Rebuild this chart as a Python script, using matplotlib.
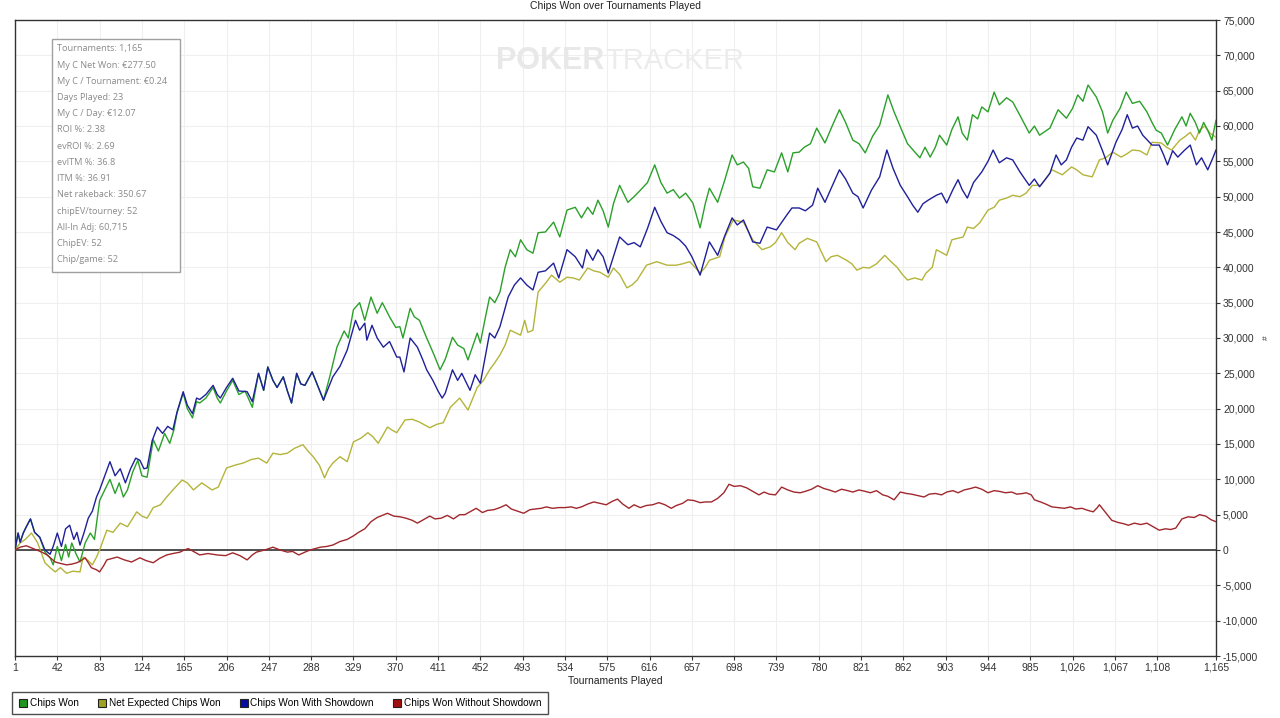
import matplotlib
matplotlib.use("Agg")
import matplotlib.pyplot as plt
from matplotlib.lines import Line2D
from matplotlib.patches import Rectangle
from matplotlib.ticker import FuncFormatter

# (tournament, chips in thousands)
chips_won = [
    (1, 0), (4, 2.4), (6, 1.1), (9, 2.4), (12, 3.3), (16, 4.4), (20, 2.5), (25, 1.8), (30, -0.3), (35, -1.1),
    (38, -2.1), (42, 0.5), (46, -1.5), (50, 0.8), (53, -1.0), (56, 1.0), (60, -0.5), (64, -1.7), (69, 1.0),
    (74, 2.4), (78, 1.5), (83, 7.0), (88, 8.5), (93, 10.0), (98, 8.0), (102, 9.5), (106, 7.5), (110, 8.5),
    (115, 11.0), (120, 12.7), (124, 10.5), (129, 10.3), (135, 15.6), (140, 14.0), (146, 16.5), (151, 15.1),
    (155, 17.0), (158, 19.4), (164, 22.2), (168, 20.0), (173, 18.7), (177, 21.0), (180, 20.8), (186, 21.5),
    (193, 23.0), (197, 21.5), (200, 20.8), (206, 22.5), (212, 24.0), (218, 22.0), (224, 22.5), (231, 20.2),
    (237, 25.0), (242, 22.6), (246, 25.9), (251, 24.0), (255, 23.0), (261, 24.5), (265, 22.5), (269, 20.8),
    (274, 25.0), (278, 23.5), (282, 23.3), (289, 25.2), (295, 23.0), (300, 21.2), (306, 24.5), (313, 28.7),
    (320, 31.0), (324, 30.0), (329, 34.0), (335, 35.0), (340, 32.5), (346, 35.8), (352, 33.5), (357, 35.0),
    (364, 33.0), (370, 31.5), (374, 31.6), (377, 30.0), (384, 34.2), (388, 33.0), (393, 32.5), (400, 30.0),
    (406, 28.0), (413, 25.5), (418, 27.0), (425, 30.1), (430, 29.0), (436, 28.5), (440, 26.9), (445, 29.0),
    (449, 30.7), (452, 29.3), (457, 33.0), (461, 35.8), (466, 35.0), (471, 36.5), (476, 40.0), (481, 42.5),
    (486, 41.5), (491, 43.9), (497, 42.5), (503, 42.0), (508, 44.9), (515, 45.0), (523, 46.4), (529, 44.3),
    (536, 48.1), (544, 48.5), (550, 47.0), (556, 48.5), (561, 47.5), (566, 49.5), (571, 48.0), (576, 45.7),
    (581, 49.0), (587, 51.6), (595, 49.2), (601, 50.0), (607, 50.9), (614, 52.0), (621, 54.5), (627, 52.0),
    (633, 50.5), (639, 51.0), (645, 49.8), (651, 50.5), (658, 49.1), (665, 45.6), (670, 49.0), (674, 51.2),
    (682, 49.2), (689, 52.4), (696, 55.9), (701, 54.5), (707, 54.9), (712, 54.0), (716, 51.4), (723, 51.2),
    (730, 53.8), (737, 53.5), (744, 56.2), (750, 53.5), (755, 56.2), (761, 56.3), (766, 57.0), (772, 57.5),
    (778, 59.7), (786, 57.6), (793, 60.0), (800, 62.3), (806, 60.5), (813, 58.0), (819, 57.5), (825, 56.2),
    (832, 58.5), (839, 60.1), (847, 64.4), (853, 62.0), (859, 59.9), (866, 57.5), (872, 56.5), (878, 55.5),
    (883, 57.0), (888, 55.6), (893, 57.0), (897, 58.7), (904, 57.3), (909, 59.5), (915, 61.3), (919, 59.0),
    (924, 58.0), (929, 61.6), (934, 61.0), (938, 62.7), (944, 62.0), (950, 64.8), (955, 63.0), (962, 64.0),
    (968, 63.4), (975, 61.5), (984, 59.0), (989, 60.0), (994, 58.7), (1004, 59.7), (1012, 62.3), (1020, 61.1),
    (1026, 62.5), (1031, 64.4), (1036, 63.5), (1041, 65.8), (1049, 64.1), (1055, 62.0), (1060, 59.0),
    (1065, 60.8), (1072, 62.5), (1078, 64.8), (1084, 63.2), (1091, 63.5), (1098, 62.0), (1103, 60.5),
    (1107, 59.4), (1112, 59.0), (1118, 57.3), (1125, 59.5), (1132, 61.3), (1136, 60.0), (1140, 61.8),
    (1145, 60.5), (1149, 59.0), (1153, 60.5), (1157, 59.4), (1161, 58.0), (1165, 60.8),
]

net_expected = [
    (1, 0), (6, 1.0), (11, 1.5), (17, 2.4), (23, 1.0), (30, -1.8), (35, -2.5), (40, -3.1), (45, -2.5),
    (51, -3.3), (57, -3.0), (64, -3.1), (67, -1.0), (72, -1.5), (76, -2.1), (80, -1.0), (83, 0.0), (90, 2.8),
    (96, 2.5), (103, 3.8), (110, 3.3), (119, 5.4), (124, 4.8), (129, 4.5), (135, 6.0), (142, 6.4), (148, 7.5),
    (154, 8.5), (163, 9.9), (168, 9.5), (174, 8.5), (182, 9.5), (192, 8.5), (198, 8.9), (206, 11.6),
    (214, 12.0), (222, 12.3), (230, 12.8), (237, 13.0), (245, 12.3), (251, 13.7), (258, 13.5), (265, 13.7),
    (272, 14.4), (280, 14.9), (285, 14.0), (290, 13.2), (296, 12.0), (301, 10.2), (305, 11.5), (309, 12.3),
    (316, 13.2), (323, 12.5), (329, 15.3), (336, 15.8), (343, 16.6), (348, 16.0), (353, 15.1), (362, 17.4),
    (366, 17.0), (371, 16.6), (379, 18.4), (386, 18.5), (393, 18.1), (403, 17.3), (410, 17.8), (416, 18.0),
    (423, 20.2), (432, 21.5), (440, 19.8), (449, 23.0), (455, 24.0), (461, 25.5), (466, 26.5), (471, 27.6),
    (476, 29.0), (481, 31.1), (491, 30.4), (495, 32.5), (498, 30.8), (503, 31.1), (508, 36.5), (516, 37.9),
    (521, 38.9), (529, 37.9), (536, 38.6), (542, 38.5), (548, 38.2), (556, 39.9), (562, 39.5), (568, 39.3),
    (576, 38.6), (581, 39.9), (587, 39.0), (594, 37.1), (599, 37.5), (604, 38.2), (613, 40.3), (623, 40.8),
    (633, 40.3), (642, 40.3), (648, 40.5), (655, 40.8), (665, 39.2), (670, 40.0), (674, 41.0), (684, 41.5),
    (689, 44.3), (697, 46.7), (707, 46.4), (712, 45.0), (716, 43.9), (725, 42.5), (733, 42.9), (738, 43.5),
    (744, 44.9), (750, 43.5), (757, 42.5), (761, 43.4), (769, 44.1), (778, 43.6), (787, 40.8), (792, 41.5),
    (798, 41.7), (807, 41.0), (812, 40.5), (817, 39.6), (823, 40.0), (829, 39.9), (836, 40.5), (844, 41.7),
    (850, 40.8), (856, 40.0), (861, 39.0), (866, 38.2), (873, 38.5), (880, 38.2), (884, 39.2), (890, 40.0),
    (894, 42.5), (904, 41.7), (909, 43.9), (920, 44.3), (924, 45.7), (930, 45.5), (936, 46.3), (944, 48.1),
    (950, 48.5), (955, 49.5), (962, 49.8), (968, 50.2), (975, 50.0), (981, 50.5), (987, 51.6), (995, 51.6),
    (1000, 52.5), (1006, 53.8), (1016, 53.1), (1025, 54.2), (1030, 53.8), (1036, 53.1), (1045, 52.8),
    (1052, 55.2), (1058, 55.5), (1065, 56.3), (1073, 55.6), (1078, 56.0), (1084, 56.6), (1091, 56.5),
    (1098, 55.9), (1103, 57.7), (1112, 57.6), (1117, 57.0), (1122, 56.6), (1130, 58.0), (1135, 58.5),
    (1140, 59.1), (1145, 58.0), (1149, 59.4), (1154, 60.0), (1159, 59.0), (1165, 58.4),
]

with_showdown = [
    (1, 0), (4, 2.4), (6, 1.1), (9, 2.4), (12, 3.3), (16, 4.4), (20, 2.5), (25, 1.8), (30, 0.0), (35, -0.6),
    (38, 0.5), (42, 2.4), (46, 0.5), (50, 3.0), (54, 3.5), (58, 1.5), (61, 2.5), (64, 0.7), (68, 2.5),
    (72, 4.5), (76, 5.5), (80, 7.5), (83, 8.5), (88, 10.5), (93, 12.5), (98, 10.5), (103, 11.5), (108, 9.5),
    (113, 11.5), (118, 13.0), (122, 12.7), (126, 11.5), (129, 11.6), (134, 15.5), (139, 17.4), (144, 16.5),
    (149, 17.5), (154, 17.0), (158, 19.5), (164, 22.4), (168, 20.5), (173, 19.3), (177, 21.5), (180, 21.3),
    (186, 22.0), (193, 23.3), (197, 22.0), (200, 21.5), (206, 23.0), (212, 24.3), (218, 22.5), (226, 22.4),
    (231, 21.0), (237, 25.0), (242, 22.6), (246, 25.9), (251, 24.0), (255, 23.0), (261, 24.5), (265, 22.5),
    (269, 20.8), (274, 25.0), (278, 23.5), (282, 23.3), (289, 25.2), (295, 23.0), (300, 21.2), (309, 24.5),
    (316, 26.0), (323, 28.3), (331, 32.5), (335, 31.1), (340, 32.1), (342, 29.7), (347, 31.8), (352, 30.0),
    (358, 28.7), (364, 29.5), (371, 27.3), (374, 27.3), (378, 25.2), (384, 30.0), (391, 28.7), (396, 27.0),
    (400, 25.5), (406, 24.0), (411, 22.5), (415, 21.5), (418, 22.2), (425, 25.5), (430, 24.0), (434, 25.0),
    (442, 22.6), (447, 24.8), (452, 23.6), (457, 27.5), (461, 30.7), (466, 30.0), (471, 31.6), (479, 35.8),
    (485, 37.5), (491, 38.5), (497, 37.5), (503, 36.8), (508, 39.3), (515, 39.5), (523, 40.6), (528, 38.5),
    (536, 42.5), (544, 41.5), (551, 39.9), (555, 42.5), (561, 41.0), (566, 42.5), (571, 41.5), (576, 39.2),
    (581, 41.5), (587, 44.3), (595, 43.2), (601, 43.5), (607, 42.9), (614, 45.5), (621, 48.5), (627, 46.5),
    (633, 44.9), (639, 44.5), (645, 43.9), (651, 43.0), (657, 41.5), (665, 38.9), (670, 41.5), (674, 43.6),
    (682, 41.7), (689, 44.5), (696, 47.0), (701, 46.0), (707, 46.7), (712, 45.0), (716, 43.6), (723, 43.4),
    (730, 45.7), (739, 45.3), (749, 47.4), (754, 48.4), (761, 48.4), (767, 48.0), (774, 48.8), (779, 51.2),
    (786, 49.2), (793, 51.5), (800, 53.8), (806, 52.5), (813, 50.5), (818, 50.0), (823, 48.4), (831, 50.9),
    (839, 52.8), (846, 56.6), (852, 54.0), (859, 51.6), (866, 50.0), (871, 48.8), (876, 47.8), (881, 49.0),
    (886, 49.5), (894, 50.2), (899, 50.5), (904, 49.1), (910, 51.0), (915, 52.4), (919, 51.0), (924, 49.8),
    (930, 52.0), (938, 53.5), (944, 55.0), (949, 56.6), (955, 54.8), (962, 55.5), (968, 55.2), (975, 53.5),
    (984, 51.6), (989, 52.5), (994, 51.4), (1004, 53.3), (1010, 55.9), (1015, 54.5), (1020, 55.2),
    (1025, 57.0), (1030, 58.3), (1036, 58.0), (1041, 59.9), (1049, 58.7), (1055, 56.5), (1060, 54.5),
    (1068, 57.7), (1074, 59.5), (1079, 61.6), (1084, 59.7), (1089, 60.0), (1094, 58.7), (1103, 57.3),
    (1110, 57.3), (1114, 56.0), (1118, 54.5), (1123, 56.5), (1128, 55.6), (1134, 56.5), (1140, 57.3),
    (1146, 54.5), (1151, 55.5), (1157, 53.8), (1162, 55.5), (1165, 56.6),
]

without_showdown = [
    (1, 0), (6, 0.4), (12, 0.6), (17, 0.3), (22, 0.0), (27, -0.3), (32, -0.7), (36, -1.2), (40, -1.7),
    (45, -1.9), (51, -2.1), (56, -2.0), (61, -1.8), (65, -1.5), (69, -1.1), (75, -2.5), (80, -2.8), (83, -3.1),
    (87, -2.2), (90, -1.4), (95, -1.2), (100, -1.0), (107, -1.4), (114, -1.7), (122, -1.1), (128, -1.5),
    (135, -1.8), (141, -1.2), (148, -0.7), (154, -0.5), (161, -0.3), (165, 0.0), (169, 0.2), (175, -0.3),
    (180, -0.7), (188, -0.5), (197, -0.7), (205, -0.8), (212, -0.4), (219, -0.8), (226, -1.4), (231, -0.7),
    (235, -0.3), (243, 0.0), (251, 0.4), (258, 0.0), (265, -0.3), (270, -0.2), (276, -0.7), (282, -0.3),
    (287, 0.0), (292, 0.2), (297, 0.4), (303, 0.5), (309, 0.7), (316, 1.2), (323, 1.5), (329, 2.0),
    (334, 2.5), (340, 3.0), (346, 4.0), (352, 4.6), (357, 4.9), (362, 5.2), (368, 4.8), (374, 4.7),
    (380, 4.5), (386, 4.2), (391, 3.8), (397, 4.3), (403, 4.8), (408, 4.4), (414, 4.5), (420, 4.9),
    (426, 4.4), (432, 5.0), (437, 5.0), (443, 5.5), (448, 5.9), (454, 5.3), (459, 5.6), (465, 5.7),
    (471, 6.0), (477, 6.4), (482, 5.8), (488, 5.5), (494, 5.2), (500, 5.7), (505, 5.8), (511, 5.9),
    (516, 6.1), (522, 5.9), (528, 6.0), (534, 6.0), (540, 6.1), (545, 5.9), (550, 6.1), (556, 6.5),
    (562, 6.8), (568, 6.6), (574, 6.4), (580, 6.9), (585, 7.2), (590, 6.5), (596, 5.9), (601, 6.4),
    (607, 6.0), (613, 6.3), (619, 6.4), (625, 6.7), (631, 6.4), (637, 5.9), (642, 6.3), (648, 6.6),
    (653, 7.1), (659, 7.0), (665, 6.7), (670, 6.8), (676, 6.8), (682, 7.3), (688, 8.1), (693, 9.3),
    (698, 9.0), (704, 9.1), (710, 8.8), (716, 8.3), (722, 7.8), (727, 8.2), (732, 7.9), (738, 7.8),
    (744, 8.9), (750, 8.5), (756, 8.2), (762, 8.1), (767, 8.3), (773, 8.6), (779, 9.1), (785, 8.7),
    (790, 8.5), (796, 8.2), (802, 8.6), (808, 8.4), (813, 8.2), (819, 8.5), (825, 8.3), (830, 8.1),
    (836, 8.4), (842, 7.8), (847, 7.6), (853, 7.1), (859, 8.2), (865, 8.0), (870, 7.9), (876, 7.7),
    (882, 7.5), (887, 7.9), (893, 8.0), (899, 7.8), (904, 8.2), (910, 8.4), (915, 8.1), (921, 8.5),
    (927, 8.7), (932, 8.9), (938, 8.6), (944, 8.1), (950, 8.4), (955, 8.3), (961, 8.1), (967, 8.2),
    (972, 7.9), (978, 8.0), (981, 8.1), (986, 7.8), (989, 7.1), (995, 6.8), (1000, 6.5), (1006, 6.1),
    (1012, 6.0), (1018, 5.9), (1024, 6.1), (1029, 5.8), (1035, 5.9), (1041, 5.6), (1046, 5.4), (1050, 6.0),
    (1052, 6.4), (1058, 5.3), (1064, 4.2), (1070, 3.9), (1076, 3.7), (1080, 3.5), (1086, 3.8), (1092, 3.6),
    (1098, 3.8), (1104, 3.3), (1110, 2.8), (1116, 3.0), (1121, 2.9), (1126, 3.1), (1132, 4.4), (1138, 4.7),
    (1144, 4.6), (1149, 5.0), (1155, 4.8), (1160, 4.3), (1165, 4.0),
]

series_names = ["Chips Won", "Net Expected Chips Won", "Chips Won With Showdown", "Chips Won Without Showdown"]
line_colors = ["#2aa02a", "#b4b43a", "#20209a", "#a0282d"]
legend_colors = ["#1e961e", "#a0a020", "#0a0aa0", "#a01010"]

x_ticks = [1 + 41 * k for k in range(28)] + [1165]
y_ticks = list(range(-15000, 75001, 5000))

stats = [
    "Tournaments: 1,165", "My C Net Won: \u20ac277.50", "My C / Tournament: \u20ac0.24", "Days Played: 23",
    "My C / Day: \u20ac12.07", "ROI %: 2.38", "evROI %: 2.69", "evITM %: 36.8", "ITM %: 36.91",
    "Net rakeback: 350.67", "chipEV/tourney: 52", "All-In Adj: 60,715", "ChipEV: 52", "Chip/game: 52",
]

plt.rcParams["font.family"] = ["Liberation Sans", "DejaVu Sans"]

W, H = 1280, 718
fig = plt.figure(figsize=(W / 100, H / 100), dpi=100)
ax = fig.add_axes([15 / W, 1 - 656 / H, 1201 / W, 636 / H])

# draw order so green/blue sit on top of the expected line
order = [net_expected, chips_won, with_showdown, without_showdown]
order_colors = [line_colors[1], line_colors[0], line_colors[2], line_colors[3]]
for data, col in zip(order, order_colors):
    xs = [p[0] for p in data]
    ys = [p[1] * 1000 for p in data]
    ax.plot(xs, ys, color=col, lw=1.0, zorder=3)

ax.axhline(0, color="#333333", lw=1.2, zorder=2)
ax.set_xlim(1, 1165)
ax.set_ylim(-15000, 75000)
ax.set_xticks(x_ticks)
ax.set_yticks(y_ticks)
ax.xaxis.set_major_formatter(FuncFormatter(lambda v, p: f"{int(v):,}"))
ax.yaxis.set_major_formatter(FuncFormatter(lambda v, p: f"{int(v):,}"))
ax.yaxis.tick_right()
ax.tick_params(axis="both", labelsize=7.5, colors="#333333", length=3, width=0.8, pad=2)
ax.grid(True, color="#efefef", lw=0.8, zorder=0)
for s in ax.spines.values():
    s.set_color("#333333")
    s.set_linewidth(1.0)

fig.text(615 / W, 1 - 6 / H, "Chips Won over Tournaments Played", ha="center", va="center", fontsize=7.5, color="#222222")
fig.text(615 / W, 1 - 681 / H, "Tournaments Played", ha="center", va="center", fontsize=7.5, color="#222222")
fig.text(1266 / W, 1 - 338 / H, "#", ha="center", va="center", fontsize=6, rotation=90, color="#333333")

# watermark
fig.text(604 / W, 1 - 61 / H, "POKER", ha="right", va="center", fontsize=22, fontweight="bold",
         color="#e8e8e8", family=["Liberation Sans"], zorder=0)
fig.text(605 / W, 1 - 61 / H, "TRACKER", ha="left", va="center", fontsize=21,
         color="#ececec", family=["Liberation Sans"], zorder=0)

# stats box
fig.patches.append(Rectangle((52 / W, 1 - 272 / H), 128 / W, 233 / H, transform=fig.transFigure,
                             facecolor="white", edgecolor="#a0a0a0", lw=1.0, zorder=5))
for i, line in enumerate(stats):
    fig.text(57 / W, 1 - (49 + i * 16.2) / H, line, ha="left", va="center", fontsize=6.6,
             color="#8a8a8a", family=["Open Sans", "DejaVu Sans"], zorder=6)

handles = [Line2D([], [], marker="s", ls="none", markersize=6, markerfacecolor=c,
                  markeredgecolor="#222222", markeredgewidth=0.8) for c in legend_colors]
leg = fig.legend(handles, series_names, loc="lower left", bbox_to_anchor=(12 / W, 4 / H), ncol=4,
                 fontsize=7.2, frameon=True, fancybox=False, borderaxespad=0, handletextpad=0.2,
                 columnspacing=1.8, handlelength=1.0, borderpad=0.6)
leg.get_frame().set_edgecolor("#222222")
leg.get_frame().set_linewidth(1.0)

fig.savefig("out.png", dpi=100)
